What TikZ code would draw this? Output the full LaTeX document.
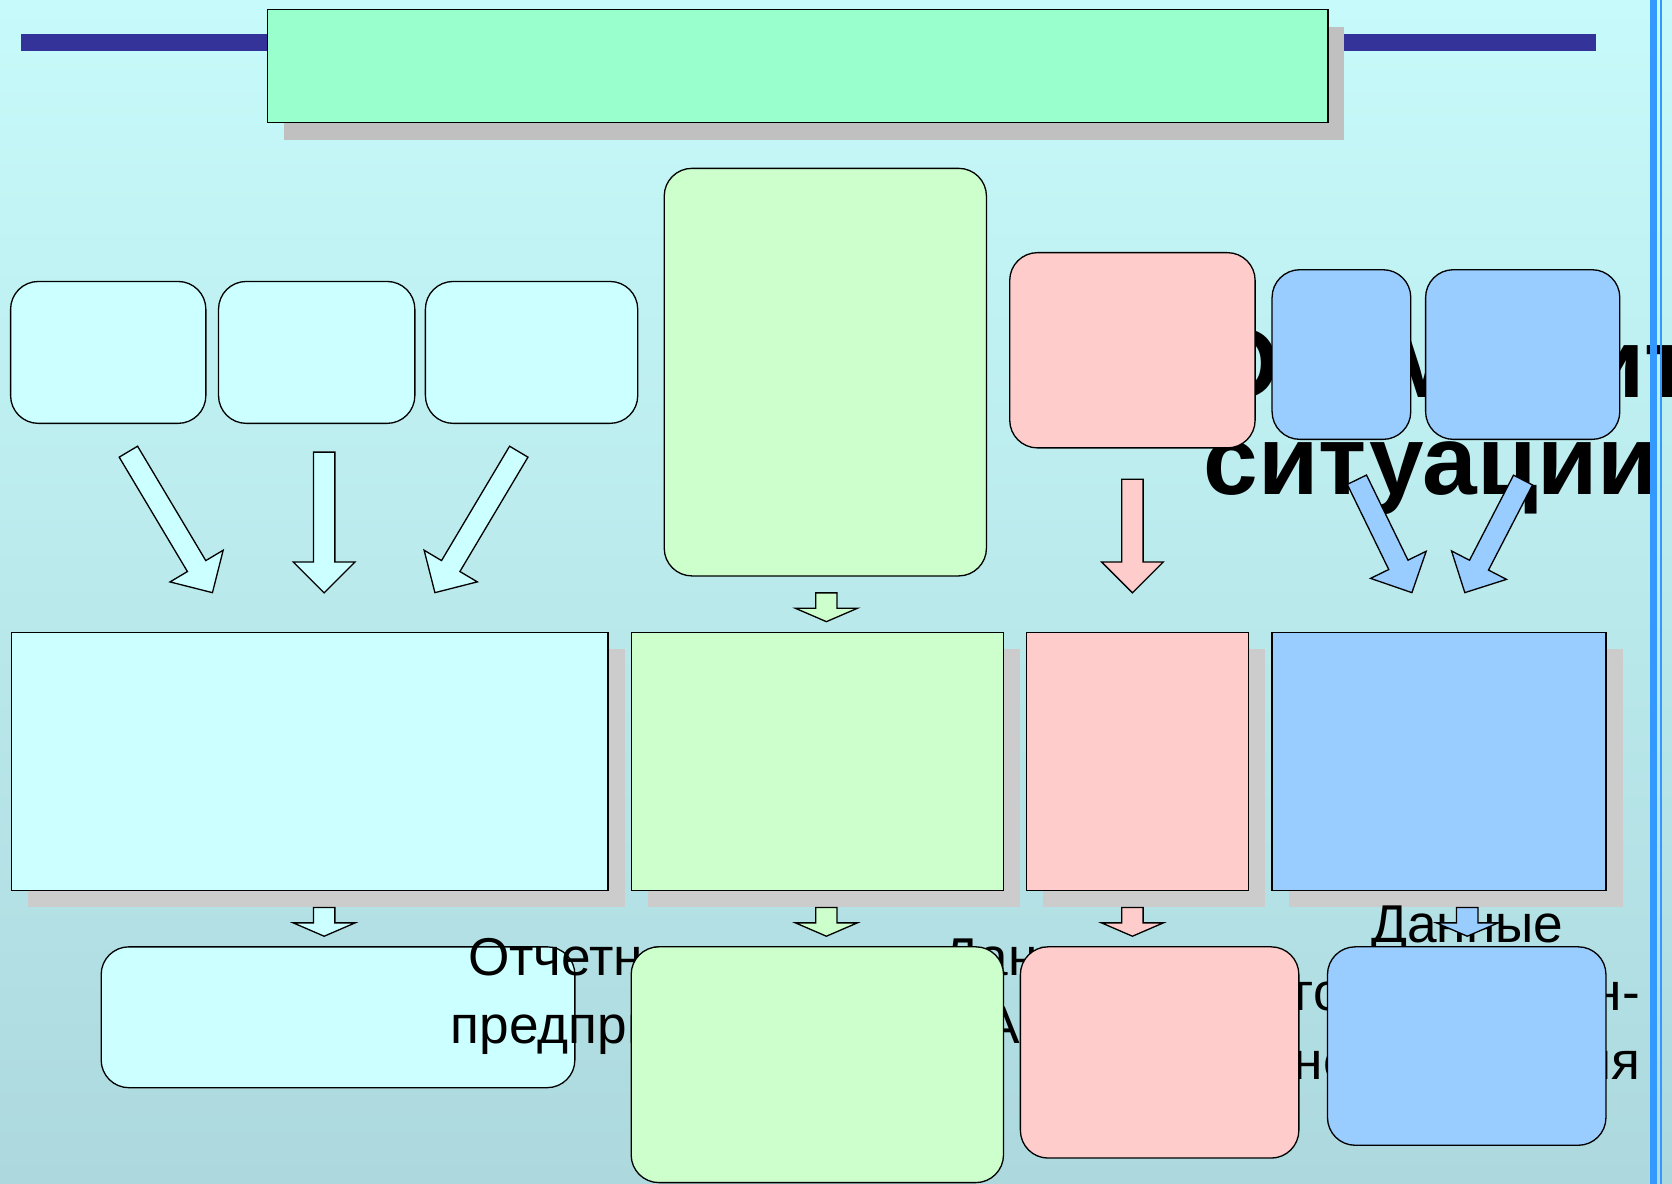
\documentclass[tikz,border=0pt]{standalone}
\usepackage{fontspec}
\setmainfont{Liberation Sans}
\usepackage{tikz}
\usetikzlibrary{calc}
\usetikzlibrary{shadows}

\definecolor{bgtop}{RGB}{199,250,250}
\definecolor{bgbot}{RGB}{173,217,222}
\definecolor{barblue}{RGB}{51,51,153}
\definecolor{lineblue}{RGB}{51,153,255}
\definecolor{titlegreen}{RGB}{153,255,204}
\definecolor{cyanbox}{RGB}{204,255,255}
\definecolor{greenbox}{RGB}{204,255,204}
\definecolor{pinkbox}{RGB}{255,204,204}
\definecolor{bluebox}{RGB}{153,204,255}
\definecolor{shadowgray}{RGB}{204,204,204}
\definecolor{titleshadow}{RGB}{192,192,192}

% Blockpfeil: Stil, Anfang, Spitze, Kopflaenge
\newcommand{\shaftw}{2.85pt}
\newcommand{\headw}{8.25pt}
\newcommand{\blockarrow}[4]{%
  \draw[#1] let \p1=(#2), \p2=(#3),
    \n1={atan2(\y2-\y1,\x2-\x1)}, \n2={veclen(\x2-\x1,\y2-\y1)} in
    [shift={(\p1)}, rotate=\n1]
    (0pt,-\shaftw) -- ({\n2*1pt-#4},-\shaftw) -- ({\n2*1pt-#4},-\headw)
    -- ({\n2*1pt},0pt) -- ({\n2*1pt-#4},\headw) -- ({\n2*1pt-#4},\shaftw)
    -- (0pt,\shaftw) -- cycle;}

\begin{document}
\begin{tikzpicture}[x=0.01cm, y=-0.01cm, line width=0.35pt,
    every node/.style={font=\fontsize{14.2}{18.2}\selectfont},
    rbox/.style={draw, rounded corners=0.26cm, inner sep=0pt},
    flatbox/.style={draw, inner sep=0pt, minimum height=2.42cm,
      drop shadow={shadow xshift=0.155cm, shadow yshift=-0.155cm, fill=shadowgray, opacity=1}}]

  % Hintergrund
  \shade[top color=bgtop, bottom color=bgbot] (0,0) rectangle (1568,1110);
  \useasboundingbox (0,0) rectangle (1568,1110);

  % Titel mit Balken
  \fill[barblue] (20,32) rectangle (1497,48);
  \node[draw, fill=titlegreen, inner sep=0pt, minimum width=9.94cm, minimum height=1.06cm,
    drop shadow={shadow xshift=0.155cm, shadow yshift=-0.16cm, fill=titleshadow, opacity=1}] (title) at (748,62) {};

  % mittlere Reihe
  \node[flatbox, fill=cyanbox, minimum width=5.59cm] (mid1) at (290.5,714) {};
  \node[flatbox, fill=greenbox, minimum width=3.49cm] (mid2) at (766.5,714) {};
  \node[flatbox, fill=pinkbox, minimum width=2.08cm] (mid3) at (1067,714) {};
  \node[flatbox, fill=bluebox, minimum width=3.13cm] (mid4) at (1349.5,714) {};

  \node[rbox, fill=cyanbox, minimum width=4.44cm, minimum height=1.32cm] (bot1) at (317,954) {};

  % Texte
  \node[anchor=north west, inner sep=0pt, align=left,
    font=\fontsize{26.2}{25.9}\selectfont\bfseries] (head) at (1128,304.5) {Об\hspace{4pt} Мониторинге\\ситуации};
  \node[anchor=north, inner sep=0pt, align=center] (src1) at (572,879.5) {Отчетность\\предприятия};
  \node[anchor=north, inner sep=0pt, align=center] (src2) at (974,880) {Данные\\АСВ};
  \node[anchor=north, inner sep=0pt, align=center] (src3) at (1376,849) {Данные\\государствен-\\ного контроля};

  % obere Reihe
  \node[rbox, fill=cyanbox, minimum width=1.83cm, minimum height=1.33cm] (top1) at (101.5,330.5) {};
  \node[rbox, fill=cyanbox, minimum width=1.84cm, minimum height=1.33cm] (top2) at (297,330.5) {};
  \node[rbox, fill=cyanbox, minimum width=1.99cm, minimum height=1.33cm] (top3) at (498.5,330.5) {};
  \node[rbox, fill=greenbox, minimum width=3.02cm, minimum height=3.82cm] (top4) at (774,349) {};
  \node[rbox, fill=pinkbox, minimum width=2.30cm, minimum height=1.83cm] (top5) at (1062,328.5) {};
  \node[rbox, fill=bluebox, minimum width=1.30cm, minimum height=1.59cm] (top6) at (1258,332.5) {};
  \node[rbox, fill=bluebox, minimum width=1.82cm, minimum height=1.59cm] (top7) at (1428,332.5) {};

  % untere Reihe
  \node[rbox, fill=greenbox, minimum width=3.49cm, minimum height=2.21cm] (bot2) at (766.5,998.5) {};
  \node[rbox, fill=pinkbox, minimum width=2.61cm, minimum height=1.98cm] (bot3) at (1087.5,987) {};
  \node[rbox, fill=bluebox, minimum width=2.61cm, minimum height=1.86cm] (bot4) at (1375.5,981) {};

  % Pfeile
  \coordinate (a1) at (120.4,423.6);  \coordinate (b1) at (199.3,555.9);
  \coordinate (a2) at (304,424);      \coordinate (b2) at (304,556);
  \coordinate (a3) at (486.5,423.6);  \coordinate (b3) at (407.8,555.9);
  \coordinate (a4) at (775,556);      \coordinate (b4) at (775,583);
  \coordinate (a5) at (1062,449.5);   \coordinate (b5) at (1062,556);
  \coordinate (a6) at (1272.5,449.9); \coordinate (b6) at (1324.1,555.8);
  \coordinate (a7) at (1428.3,450.2); \coordinate (b7) at (1373.7,555.8);
  \blockarrow{fill=cyanbox}{a1}{b1}{8.25pt}
  \blockarrow{fill=cyanbox}{a2}{b2}{8.25pt}
  \blockarrow{fill=cyanbox}{a3}{b3}{8.25pt}
  \blockarrow{fill=greenbox}{a4}{b4}{3.56pt}
  \blockarrow{fill=pinkbox}{a5}{b5}{8.25pt}
  \blockarrow{fill=bluebox}{a6}{b6}{8.25pt}
  \blockarrow{fill=bluebox}{a7}{b7}{8.25pt}

  % kleine Pfeile nach unten
  \foreach \x/\c [count=\i] in {304/cyanbox, 775/greenbox, 1062/pinkbox, 1376/bluebox} {
    \coordinate (s\i) at (\x,851);
    \coordinate (e\i) at (\x,878);
    \blockarrow{fill=\c}{s\i}{e\i}{3.56pt}
  }

  % Linien rechts
  \fill[lineblue] (1547.5,0) rectangle (1554,1110);
  \fill[lineblue] (1557,0) rectangle (1559,1110);

\end{tikzpicture}
\end{document}
